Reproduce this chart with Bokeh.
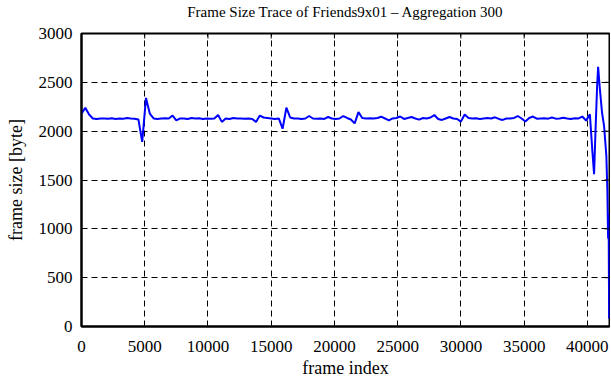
import math
from bokeh.plotting import figure
from bokeh.models import FixedTicker, Range1d, LinearAxis
from bokeh.embed import file_html
from bokeh.resources import INLINE

# ---- data ----
frame_index = [
    0, 300, 600, 900, 1200, 1500, 1800, 2100, 2400, 2700, 3000, 3300, 3600, 3900,
    4200, 4500, 4800, 5100, 5400, 5700, 6000, 6300, 6600, 6900, 7200, 7500, 7800,
    8100, 8400, 8700, 9000, 9300, 9600, 9900, 10200, 10500, 10800, 11100, 11400,
    11700, 12000, 12300, 12600, 12900, 13200, 13500, 13800, 14100, 14400, 14700,
    15000, 15300, 15600, 15900, 16200, 16500, 16800, 17100, 17400, 17700, 18000,
    18300, 18600, 18900, 19200, 19500, 19800, 20100, 20400, 20700, 21000, 21300,
    21600, 21900, 22200, 22500, 22800, 23100, 23400, 23700, 24000, 24300, 24600,
    24900, 25200, 25500, 25800, 26100, 26400, 26700, 27000, 27300, 27600, 27900,
    28200, 28500, 28800, 29100, 29400, 29700, 30000, 30300, 30600, 30900, 31200,
    31500, 31800, 32100, 32400, 32700, 33000, 33300, 33600, 33900, 34200, 34500,
    34800, 35100, 35400, 35700, 36000, 36300, 36600, 36900, 37200, 37500, 37800,
    38100, 38400, 38700, 39000, 39300, 39600, 39900, 40200,
    40400, 40530, 40630, 40770, 40850, 40970, 41160, 41320, 41500, 41580, 41640,
    41680, 41720,
]
frame_size = [
    2180, 2240, 2170, 2130, 2125, 2130, 2130, 2128, 2132, 2125, 2130, 2128, 2135, 2130,
    2128, 2120, 1890, 2340, 2180, 2130, 2125, 2130, 2132, 2130, 2160, 2110, 2130,
    2130, 2125, 2135, 2130, 2132, 2125, 2130, 2128, 2130, 2165, 2095, 2130,
    2125, 2135, 2130, 2130, 2128, 2130, 2125, 2095, 2160, 2140, 2135,
    2130, 2125, 2130, 2025, 2240, 2140, 2130, 2130, 2125, 2130, 2155,
    2130, 2128, 2130, 2125, 2145, 2130, 2125, 2130, 2155, 2135, 2120,
    2080, 2195, 2135, 2130, 2132, 2130, 2135, 2148, 2130, 2110, 2130,
    2135, 2150, 2125, 2135, 2145, 2130, 2118, 2135, 2130, 2140, 2165,
    2125, 2115, 2130, 2145, 2130, 2125, 2098, 2170, 2135, 2130, 2132,
    2125, 2130, 2135, 2130, 2142, 2125, 2115, 2130, 2130, 2135, 2155,
    2130, 2098, 2135, 2150, 2128, 2130, 2132, 2128, 2140, 2128, 2130,
    2138, 2130, 2125, 2132, 2130, 2150, 2108, 2172,
    1787, 1560, 1950, 2460, 2660, 2460, 2190, 2055, 1750, 1400, 900,
    1150, 80,
]
x_ticks = [0, 5000, 10000, 15000, 20000, 25000, 30000, 35000, 40000]
y_ticks = [0, 500, 1000, 1500, 2000, 2500, 3000]
x_max = 41750
y_max = 3000
title_text = "Frame Size Trace of Friends9x01 \u2013 Aggregation 300"

FONT = "Liberation Serif"

p = figure(
    width=610, height=380,
    output_backend="svg", toolbar_location=None,
    x_range=Range1d(0, x_max), y_range=Range1d(0, y_max),
    min_border_left=81, min_border_right=1, min_border_top=32, min_border_bottom=50,
    x_axis_label="frame index", y_axis_label="frame size [byte]",
)
p.background_fill_color = "white"
p.border_fill_color = "white"
p.outline_line_color = "black"
p.outline_line_width = 2

# the title, drawn as the label of a tick-less axis above the frame
title_axis = LinearAxis(ticker=FixedTicker(ticks=[]), axis_label=title_text,
                        axis_line_color=None, major_tick_line_color=None,
                        minor_tick_line_color=None, major_label_standoff=0,
                        axis_label_standoff=14, axis_label_text_font=FONT,
                        axis_label_text_font_size="15px",
                        axis_label_text_font_style="normal",
                        axis_label_text_color="black")
p.add_layout(title_axis, "above")

p.line(frame_index, frame_size, line_color="#0000ff", line_width=2)

for ax in p.xaxis:
    if ax is not title_axis:
        ax.ticker = FixedTicker(ticks=x_ticks)
for ax in p.yaxis:
    ax.ticker = FixedTicker(ticks=y_ticks)

for ax in [p.below[0], p.left[0]]:
    ax.axis_line_color = "black"
    ax.axis_line_width = 2
    ax.major_tick_in = 5
    ax.major_tick_out = 0
    ax.major_tick_line_color = "black"
    ax.major_tick_line_width = 1
    ax.minor_tick_line_color = None
    ax.major_label_text_font = FONT
    ax.major_label_text_font_size = "17px"
    ax.major_label_text_color = "black"
    ax.axis_label_text_font = FONT
    ax.axis_label_text_font_size = "18px"
    ax.axis_label_text_font_style = "normal"
    ax.axis_label_text_color = "black"

p.below[0].major_label_standoff = 14
p.left[0].major_label_standoff = 9
p.below[0].axis_label_standoff = 3
p.left[0].axis_label_standoff = 10

# mirrored ticks on top and right (inward, like the reference)
p.ray(x=x_ticks, y=[y_max] * len(x_ticks), length=5, length_units="screen",
      angle=-math.pi / 2, line_color="black", line_width=1)
p.ray(x=[x_max] * len(y_ticks), y=y_ticks, length=5, length_units="screen",
      angle=math.pi, line_color="black", line_width=1)

p.xgrid.ticker = FixedTicker(ticks=x_ticks)
p.ygrid.ticker = FixedTicker(ticks=y_ticks)
for g in (p.xgrid, p.ygrid):
    g.grid_line_color = "black"
    g.grid_line_width = 1
    g.grid_line_dash = "6 4"
    g.grid_line_alpha = 1.0

open("out.html", "w").write(file_html(p, INLINE))
